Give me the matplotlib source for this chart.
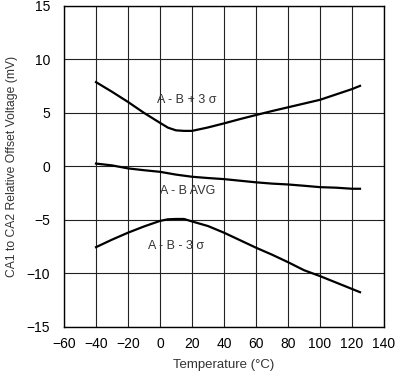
import matplotlib
matplotlib.use("Agg")
import matplotlib.pyplot as plt
import numpy as np

# --- data ---
temps = [-40, -30, -20, -10, 0, 5, 10, 15, 20, 30, 40, 50, 60, 70, 80, 90, 100, 110, 120, 125]

plus_3sigma = [7.85, 6.95, 6.0, 4.98, 4.05, 3.6, 3.35, 3.3, 3.3, 3.62, 4.0, 4.4, 4.78, 5.15, 5.5, 5.85, 6.2, 6.7, 7.2, 7.5]
avg = [0.25, 0.08, -0.2, -0.37, -0.52, -0.65, -0.78, -0.88, -0.98, -1.1, -1.2, -1.35, -1.5, -1.62, -1.7, -1.82, -1.95, -2.0, -2.1, -2.1]
minus_3sigma = [-7.55, -6.85, -6.2, -5.62, -5.1, -4.95, -4.92, -4.92, -5.15, -5.58, -6.2, -6.9, -7.6, -8.25, -8.95, -9.7, -10.25, -10.85, -11.45, -11.75]

curve_labels = ["A - B + 3 σ", "A - B AVG", "A - B - 3 σ"]
label_pos = [(17, 6.2), (17, -2.3), (10, -7.45)]

x_ticks = list(range(-60, 141, 20))
y_ticks = list(range(-15, 16, 5))

plt.rcParams['font.family'] = ['Liberation Sans', 'DejaVu Sans']

fig = plt.figure(figsize=(4.06, 3.75), dpi=100)
ax = fig.add_axes([64 / 406, 1 - 327 / 375, (384 - 64) / 406, (327 - 5.5) / 375])

for series in (plus_3sigma, avg, minus_3sigma):
    ax.plot(temps, series, color='black', linewidth=1.6, zorder=3)

for text, (tx, ty) in zip(curve_labels, label_pos):
    ax.text(tx, ty, text, ha='center', va='center', fontsize=9, color='#333333', zorder=4)

ax.set_xlim(-60, 140)
ax.set_ylim(-15, 15)
ax.set_xticks(x_ticks)
ax.set_yticks(y_ticks)
ax.grid(True, color='#222222', linewidth=0.8)
ax.tick_params(length=0, labelsize=10, colors='black')
ax.tick_params(axis='x', pad=7)
ax.tick_params(axis='y', pad=10)
for sp in ax.spines.values():
    sp.set_linewidth(1.0)
    sp.set_color('black')

ax.set_xlabel("Temperature (°C)", fontsize=9.5, color='#333333')
ax.set_ylabel("CA1 to CA2 Relative Offset Voltage (mV)", fontsize=8.7, color='#333333')
ax.xaxis.set_label_coords(0.5, -0.118)
ax.yaxis.set_label_coords(-0.162, 0.5)
ax.xaxis.label.set_va('center')
ax.yaxis.label.set_va('center')

fig.savefig("out.png", dpi=100)
